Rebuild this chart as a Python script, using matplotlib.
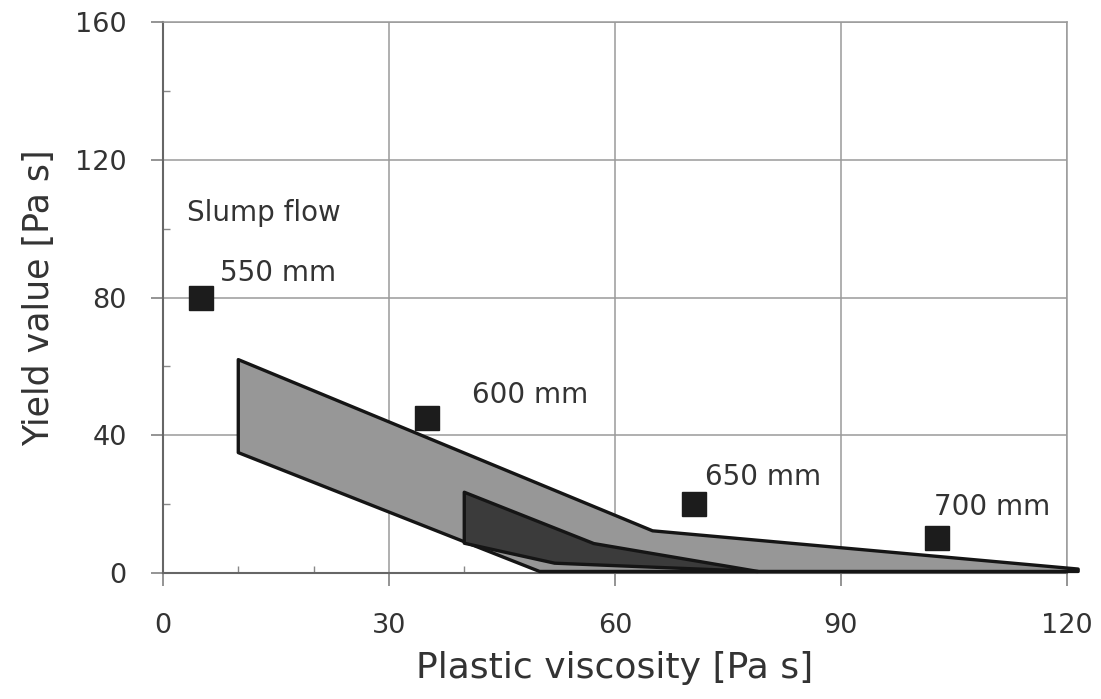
import matplotlib
matplotlib.use("Agg")
import matplotlib.pyplot as plt
from matplotlib.patches import Polygon
from matplotlib.ticker import MultipleLocator

# slump flow points (plastic viscosity, yield value)
flow_labels = ["550 mm", "600 mm", "650 mm", "700 mm"]
flow_visc = [5, 35, 70.5, 102.8]
flow_yield = [80, 45, 20, 10.2]
label_x = [7.6, 41, 72, 102.3]
label_y = [87, 51.7, 28, 19.2]

# shaded regions (outline vertices)
light_x = [10, 65, 121.5, 121.5, 50, 10]
light_y = [62, 12.3, 1.2, 0.5, 0.5, 35]
dark_x = [40, 57.2, 79, 52, 40]
dark_y = [23.5, 8.6, 0.5, 2.9, 8.7]

fig = plt.figure(figsize=(11.01, 6.99), dpi=100)
ax = fig.add_axes([0.148, 0.18, 0.821, 0.7885])

ax.add_patch(Polygon(list(zip(light_x, light_y)), closed=True, facecolor='#979797',
                     edgecolor='#151515', linewidth=2.4, joinstyle='round', zorder=3, clip_on=False))
ax.add_patch(Polygon(list(zip(dark_x, dark_y)), closed=True, facecolor='#3b3b3b',
                     edgecolor='#151515', linewidth=2.4, joinstyle='round', zorder=4, clip_on=False))

ax.plot(flow_visc, flow_yield, 's', color='#1c1c1c', markersize=17, zorder=5, clip_on=False)
for t, x, y in zip(flow_labels, label_x, label_y):
    ax.text(x, y, t, fontsize=20, color='#333333', ha='left', va='center', zorder=6)
ax.text(3.2, 104.5, 'Slump flow', fontsize=20, color='#333333', ha='left', va='center')

ax.set_xlim(0, 120)
ax.set_ylim(0, 160)
ax.xaxis.set_major_locator(MultipleLocator(30))
ax.yaxis.set_major_locator(MultipleLocator(40))
ax.xaxis.set_minor_locator(MultipleLocator(10))
ax.yaxis.set_minor_locator(MultipleLocator(20))
ax.grid(True, which='major', color='#9a9a9a', linewidth=1.1, zorder=0)
ax.set_axisbelow(True)

ax.tick_params(which='major', direction='out', length=9, width=1.1, color='#777777',
               labelsize=19.5, labelcolor='#333333')
ax.tick_params(axis='x', which='major', pad=20)
ax.tick_params(axis='y', which='major', pad=17)
ax.tick_params(which='minor', direction='in', length=5, width=1.0, color='#888888')

for side in ['top', 'right']:
    ax.spines[side].set_color('#9a9a9a')
    ax.spines[side].set_linewidth(1.1)
for side in ['left', 'bottom']:
    ax.spines[side].set_color('#666666')
    ax.spines[side].set_linewidth(1.5)

ax.set_xlabel('Plastic viscosity [Pa s]', fontsize=26, color='#333333', labelpad=8)
ax.set_ylabel('Yield value [Pa s]', fontsize=25, color='#333333', labelpad=14)

fig.savefig('out.png', dpi=100)
